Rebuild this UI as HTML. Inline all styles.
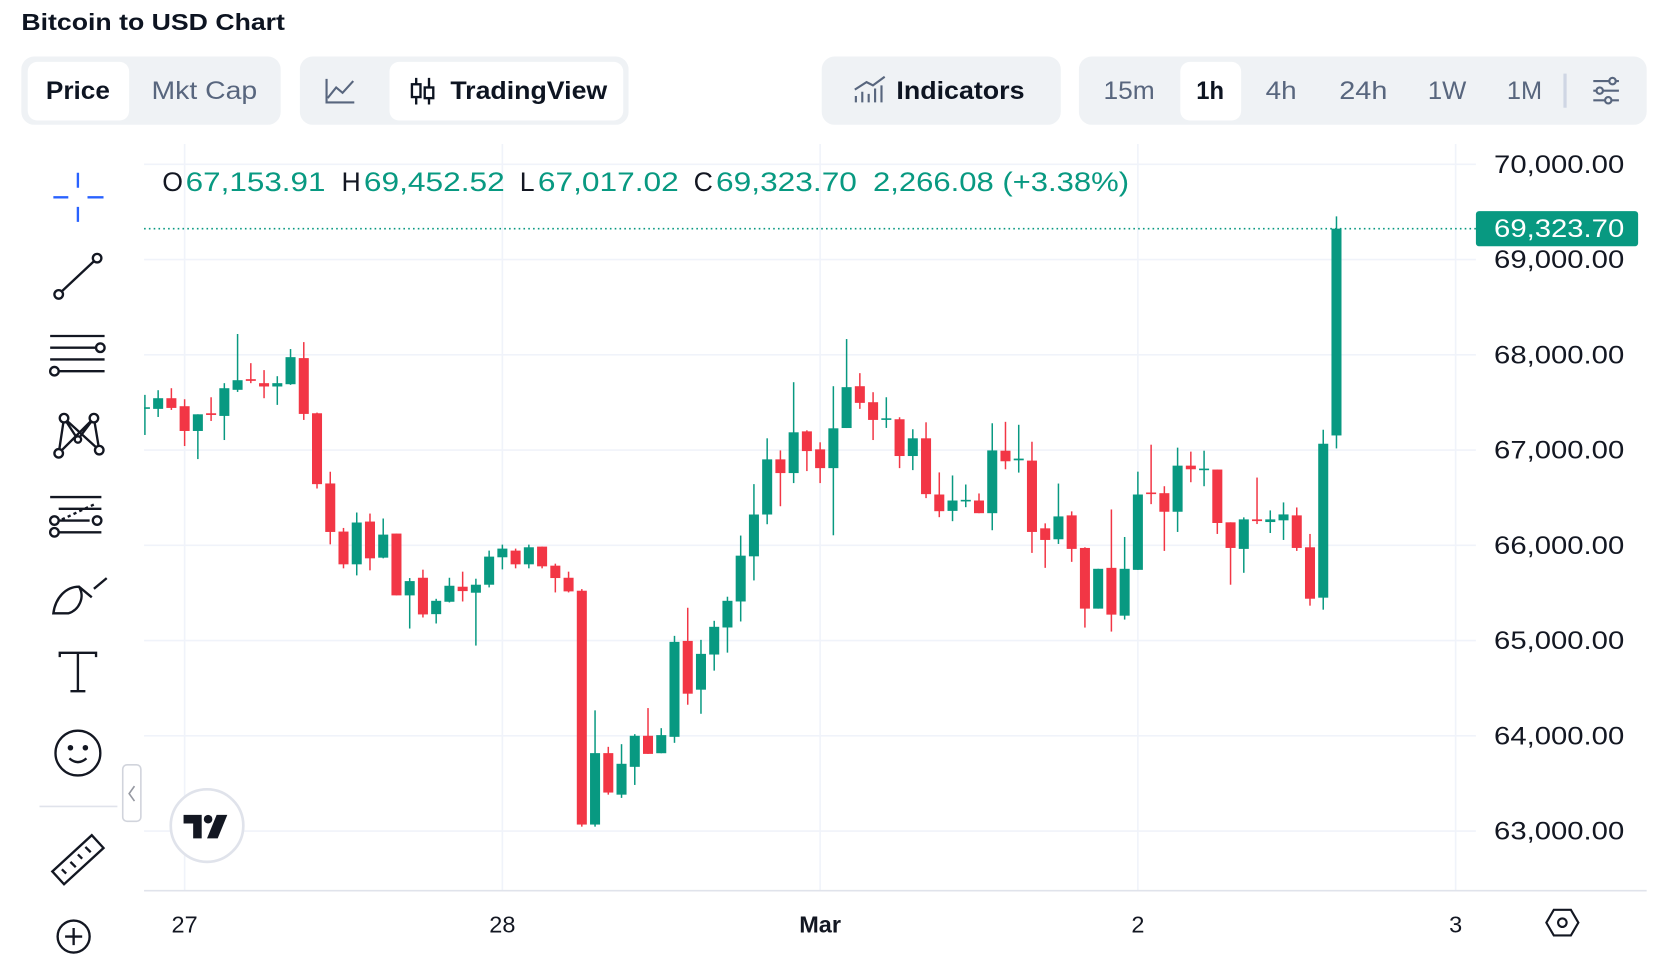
<!DOCTYPE html>
<html><head><meta charset="utf-8"><style>
html,body{margin:0;padding:0;background:#fff;width:1668px;height:976px;overflow:hidden}
svg{display:block}
text{font-family:"Liberation Sans",sans-serif}
</style></head><body>
<svg id="root" width="1668" height="976" viewBox="0 0 1563 915" preserveAspectRatio="none" xmlns="http://www.w3.org/2000/svg">
<text x="20" y="28" font-size="22" font-weight="bold" fill="#0d1421" textLength="247" lengthAdjust="spacingAndGlyphs">Bitcoin to USD Chart</text>

<g>
<rect x="20" y="53" width="243" height="64" rx="12" fill="#eff2f5"/>
<rect x="26" y="58" width="95" height="55" rx="9" fill="#fff"/>
<text x="43" y="93" font-size="23" font-weight="bold" fill="#0d1421" textLength="60" lengthAdjust="spacingAndGlyphs">Price</text>
<text x="142" y="93" font-size="23" fill="#58667e" textLength="99" lengthAdjust="spacingAndGlyphs">Mkt Cap</text>
</g>
<g>
<rect x="281" y="53" width="308" height="64" rx="12" fill="#eff2f5"/>
<g fill="none" stroke="#58667e" stroke-width="2"><path d="M306 74 V96 H332"/><path d="M307 92 L315 82 L321 87 L331 76"/></g>
<rect x="365" y="58" width="219" height="55" rx="9" fill="#fff"/>
<g fill="none" stroke="#0d1421" stroke-width="2.2"><path d="M390 73 V98 M402 73 V98"/><rect x="386" y="79" width="8" height="12" fill="#fff"/><rect x="398" y="82" width="8" height="10" fill="#fff"/></g>
<text x="422" y="93" font-size="23" font-weight="bold" fill="#0d1421" textLength="147" lengthAdjust="spacingAndGlyphs">TradingView</text>
</g>
<g>
<rect x="770" y="53" width="224" height="64" rx="12" fill="#eff2f5"/>
<g fill="none" stroke="#58667e" stroke-width="2"><path d="M802 96 V90 M808 96 V86 M814 96 V88 M820 96 V83 M826 96 V80"/><path d="M801 84 L812 77 L818 80 L829 72"/></g>
<text x="840" y="93" font-size="23" font-weight="bold" fill="#0d1421" textLength="120" lengthAdjust="spacingAndGlyphs">Indicators</text>
</g>
<g>
<rect x="1011" y="53" width="532" height="64" rx="12" fill="#eff2f5"/>
<text x="1034" y="93" font-size="23" fill="#58667e" textLength="48" lengthAdjust="spacingAndGlyphs">15m</text>
<rect x="1106" y="58" width="57" height="55" rx="9" fill="#fff"/>
<text x="1121" y="93" font-size="23" font-weight="bold" fill="#0d1421" textLength="26" lengthAdjust="spacingAndGlyphs">1h</text>
<text x="1186" y="93" font-size="23" fill="#58667e" textLength="29" lengthAdjust="spacingAndGlyphs">4h</text>
<text x="1255" y="93" font-size="23" fill="#58667e" textLength="45" lengthAdjust="spacingAndGlyphs">24h</text>
<text x="1338" y="93" font-size="23" fill="#58667e" textLength="36" lengthAdjust="spacingAndGlyphs">1W</text>
<text x="1412" y="93" font-size="23" fill="#58667e" textLength="33" lengthAdjust="spacingAndGlyphs">1M</text>
<rect x="1465" y="69" width="3" height="32" fill="#cfd6e4"/>
<g fill="none" stroke="#58667e" stroke-width="2"><path d="M1493 76 H1517 M1493 85 H1517 M1493 94 H1517"/><circle cx="1511" cy="76" r="3" fill="#eff2f5"/><circle cx="1499" cy="85" r="3" fill="#eff2f5"/><circle cx="1507" cy="94" r="3" fill="#eff2f5"/></g>
</g>

<g id="grid"></g>
<line x1="135" y1="835" x2="1543" y2="835" stroke="#e0e3eb" stroke-width="1.5"/>
<g id="yaxis"></g>
<g id="xaxis"></g>
<g id="candles"></g>
<line id="lastLine" x1="135" x2="1383" y1="216" y2="216" stroke="#089981" stroke-width="1.5" stroke-dasharray="1.5 3"/>
<g><rect id="lastBox" x="1383" y="200" width="152" height="33" rx="3" fill="#089981"/><text id="lastText" x="1400" y="224" font-size="23" fill="#fff" textLength="122" lengthAdjust="spacingAndGlyphs">69,323.70</text></g>

<g font-size="25">
<text x="152" y="179" fill="#131722">O</text><text x="174" y="179" fill="#089981" textLength="131" lengthAdjust="spacingAndGlyphs">67,153.91</text>
<text x="320" y="179" fill="#131722">H</text><text x="341" y="179" fill="#089981" textLength="132" lengthAdjust="spacingAndGlyphs">69,452.52</text>
<text x="487" y="179" fill="#131722">L</text><text x="504" y="179" fill="#089981" textLength="132" lengthAdjust="spacingAndGlyphs">67,017.02</text>
<text x="650" y="179" fill="#131722">C</text><text x="671" y="179" fill="#089981" textLength="132" lengthAdjust="spacingAndGlyphs">69,323.70</text>
<text x="818" y="179" fill="#089981" textLength="240" lengthAdjust="spacingAndGlyphs">2,266.08 (+3.38%)</text>
</g>

<g fill="none" stroke="#131722" stroke-width="2.2">
<g stroke="#2962ff"><path d="M73 162 V176 M73 194 V208 M50 185 H64 M82 185 H97"/></g>
<g><path d="M57 274 L89 244"/><circle cx="55" cy="276" r="4" fill="#fff"/><circle cx="91" cy="242" r="4" fill="#fff"/></g>
<g><path d="M47 315 H98 M47 326 H92 M47 337 H98 M55 348 H98"/><circle cx="94" cy="326" r="4" fill="#fff"/><circle cx="51" cy="348" r="4" fill="#fff"/></g>
<g><path d="M55 425 L60 392 L73 412 L88 392 L93 422 L60 392 M55 425 L88 392"/><circle cx="55" cy="425" r="4" fill="#fff"/><circle cx="60" cy="392" r="4" fill="#fff"/><circle cx="88" cy="392" r="4" fill="#fff"/><circle cx="93" cy="422" r="4" fill="#fff"/><circle cx="73" cy="412" r="3" fill="#fff"/></g>
<g><path d="M47 466 H95 M55 477 H95 M47 488 H84 M55 499 H95"/><path d="M58 487 L90 472" stroke-dasharray="3 3"/><circle cx="51" cy="488" r="4" fill="#fff"/><circle cx="91" cy="488" r="4" fill="#fff"/><circle cx="51" cy="499" r="4" fill="#fff"/></g>
<g><path d="M50 575 C52 560 62 550 74 550 C80 560 74 572 64 575 Z M74 550 L86 560 M88 552 L100 542"/></g>
<g><path d="M56 616 V612 H90 V616 M73 612 V648 M66 648 H80"/></g>
<g><circle cx="73" cy="706" r="21"/><circle cx="66" cy="701" r="1.5" fill="#131722"/><circle cx="80" cy="701" r="1.5" fill="#131722"/><path d="M65 711 Q73 718 81 711"/></g>
<line x1="37" y1="756" x2="110" y2="756" stroke="#e0e3eb" stroke-width="1.5"/>
<g><path d="M49 817 L86 783 L97 795 L60 829 Z M58 815 L62 819 M66 808 L71 813 M73 801 L77 805 M80 794 L85 799"/></g>
<g><circle cx="69" cy="878" r="15"/><path d="M69 870 V886 M61 878 H77"/></g>
</g>
<g><rect x="115" y="717" width="17" height="53" rx="4" fill="#fff" stroke="#d1d4dc" stroke-width="1.5"/><path d="M126 737 L121 744 L126 751" fill="none" stroke="#9598a1" stroke-width="1.5"/></g>
<g><circle cx="194" cy="774" r="34" fill="#fff" stroke="#e0e3eb" stroke-width="2.5"/><path d="M172 764 H189 V786 H181 V772 H172 Z" fill="#131722"/><circle cx="195" cy="768" r="4" fill="#131722"/><path d="M203 764 H213 L204 786 H194 Z" fill="#131722"/></g>
<g fill="none" stroke="#131722" stroke-width="2"><path d="M1456 853 H1472 L1479 865 L1472 877 H1456 L1449 865 Z"/><circle cx="1464" cy="865" r="4"/></g>
</svg>
<script>
const hours = [-3,-2,-1,0,1,2,3,4,5,6,7,8,9,10,11,12,13,14,15,16,17,18,19,20,21,22,23,24,25,26,27,28,29,30,31,32,33,34,35,36,37,38,39,40,41,42,43,44,45,46,47,48,49,50,51,52,53,54,55,56,57,58,59,60,61,62,63,64,65,66,67,68,69,70,71,72,73,74,75,76,77,78,79,80,81,82,83,84,85,86,87];
const opens = [67439,67432,67544,67460,67200,67386,67358,67632,67744,67702,67667,67691,67965,67386,66649,66144,65800,66249,65870,66123,65474,65659,65277,65407,65565,65502,65586,65874,65944,65800,65986,65786,65659,65523,63068,63818,63382,63674,64000,63817,63989,64996,64484,64853,65137,65410,65884,66323,66902,66758,67196,67007,66810,67231,67670,67502,67323,67323,66937,67123,66533,66361,66463,66470,66337,66993,66892,66889,66178,66063,66314,65972,65335,65763,65261,65742,66554,66547,66352,66836,66801,66795,66241,65962,66272,66244,66262,66314,65979,65450,67153];
const highs = [67579,67628,67649,67533,67375,67554,67702,68218,67912,67839,67775,68060,68133,67393,66772,66182,66344,66333,66281,66123,65656,65744,65438,65659,65723,65649,65944,66007,65965,66007,65986,65807,65723,65540,64267,63884,63912,64017,64291,64080,65049,65344,65007,65207,65460,66102,66642,67123,66996,67712,67207,67081,67670,68165,67807,67607,67554,67344,67218,67291,66765,66733,66638,66544,67281,67296,67265,67087,66230,66648,66356,65979,65753,66376,66087,66773,67056,66620,67025,66983,66993,66795,66241,66293,66711,66366,66450,66397,66119,67213,69453];
const lows = [67158,67347,67421,67042,66905,67305,67105,67610,67702,67544,67474,67684,67316,66596,66010,65758,65684,65737,65863,65474,65126,65242,65179,65400,65410,64947,65558,65747,65758,65758,65758,65505,65505,63046,63046,63382,63348,63484,63810,63817,63926,64326,64231,64684,64873,65200,65631,66221,66410,66653,66779,66653,66105,67231,67432,67105,67232,66810,66789,66495,66295,66253,66400,66337,66158,66798,66763,65920,65763,66014,65826,65136,65335,65094,65220,65742,66432,65941,66140,66662,66620,66119,65586,65711,66223,66129,66056,65941,65366,65324,67017];
const closes = [67449,67544,67442,67200,67375,67368,67649,67733,67726,67667,67702,67975,67379,66642,66140,65800,66239,65863,66112,65474,65624,65274,65417,65575,65519,65586,65881,65965,65800,65979,65779,65656,65516,63068,63818,63404,63706,64000,63810,64007,64986,64442,64860,65144,65417,65891,66323,66902,66758,67186,66989,66810,67228,67660,67495,67316,67333,66937,67123,66537,66358,66470,66477,66337,66996,66882,66910,66140,66056,66303,65962,65335,65753,65272,65753,66533,66540,66352,66836,66798,66805,66234,65972,66272,66254,66272,66324,65972,65439,67066,69324];
const priceTicks = [70000,69000,68000,67000,66000,65000,64000,63000];
const dayLabels = ["27","28","Mar","2","3"];
const dayHours = [0,24,48,72,96];
const lastPrice = 69323.70;

const NS = "http://www.w3.org/2000/svg";
const X0 = 173, HOUR_W = 297.75/24;
function xScale(h){ return X0 + h*HOUR_W; }
function yScale(p){ return 154 + (70000 - p)*0.0893; }
function mk(tag, attrs, parent){ const e=document.createElementNS(NS,tag); for(const k in attrs) e.setAttribute(k,attrs[k]); parent.appendChild(e); return e; }
function fmt(v){ return v.toLocaleString("en-US",{minimumFractionDigits:2,maximumFractionDigits:2}); }

const grid=document.getElementById("grid"), yaxis=document.getElementById("yaxis"), xaxis=document.getElementById("xaxis"), cg=document.getElementById("candles");
priceTicks.forEach(p=>{
  const y=yScale(p);
  const l=mk("line",{x1:135,x2:1383,y1:y,y2:y,stroke:"#f0f3fa","stroke-width":1.5},grid);
  
  
  const t=mk("text",{x:1400,y:y+8,"font-size":23,fill:"#131722",textLength:122,lengthAdjust:"spacingAndGlyphs"},yaxis);
  
  
  t.textContent=fmt(p);
});
dayHours.forEach((h,i)=>{
  const x=xScale(h);
  const l=mk("line",{x1:x,x2:x,y1:135,y2:835,stroke:"#f0f3fa","stroke-width":1.5},grid);
  
  
  const t=mk("text",{x:x,y:874,"font-size":22,fill:"#131722","text-anchor":"middle","font-weight":dayLabels[i]==="Mar"?"bold":"normal"},xaxis);
  
  
  t.textContent=dayLabels[i];
});
for(let i=0;i<hours.length;i++){
  const x=xScale(hours[i]);
  const up=closes[i]>=opens[i];
  const col=up?"#089981":"#f23645";
  const g=mk("g",{},cg);
  
  
  mk("rect",{x:x-0.7,y:yScale(highs[i]),width:1.4,height:Math.max(1,yScale(lows[i])-yScale(highs[i])),fill:col},g);
  const top=yScale(Math.max(opens[i],closes[i])), bot=yScale(Math.min(opens[i],closes[i]));
  if(x-4.7<135) { mk("rect",{x:135,y:top,width:x+4.7-135,height:Math.max(1.5,bot-top),fill:col},g); }
  else mk("rect",{x:x-4.7,y:top,width:9.4,height:Math.max(1.5,bot-top),fill:col},g);
}
const ly=yScale(lastPrice);
const ll=document.getElementById("lastLine"); ll.setAttribute("y1",ly); ll.setAttribute("y2",ly);
document.getElementById("lastBox").setAttribute("y",ly-16.5);
const lt=document.getElementById("lastText"); lt.setAttribute("y",ly+8); lt.textContent=fmt(lastPrice);
</script>
</body></html>
